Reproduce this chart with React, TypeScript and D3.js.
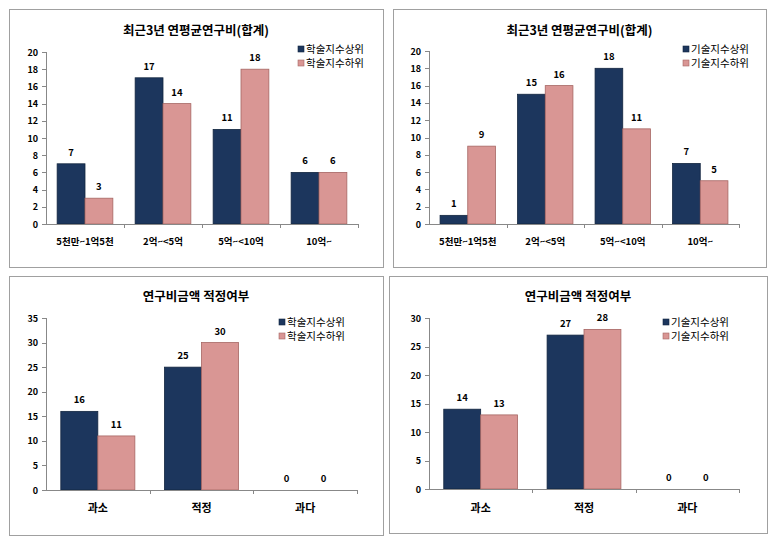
import React from "react";
import * as d3 from "d3";

const rangeCats = ["5천만~1억5천", "2억~<5억", "5억~<10억", "10억~"];
const adequacyCats = ["과소", "적정", "과다"];

const academicTopRange = [7, 17, 11, 6];
const academicBottomRange = [3, 14, 18, 6];
const techTopRange = [1, 15, 18, 7];
const techBottomRange = [9, 16, 11, 5];

const academicTopAdeq = [16, 25, 0];
const academicBottomAdeq = [11, 30, 0];
const techTopAdeq = [14, 27, 0];
const techBottomAdeq = [13, 28, 0];

const academicNames = ["학술지수상위", "학술지수하위"];
const techNames = ["기술지수상위", "기술지수하위"];

const titleRange = "최근3년 연평균연구비(합계)";
const titleAdeq = "연구비금액 적정여부";

const rangeTicks = [0, 2, 4, 6, 8, 10, 12, 14, 16, 18, 20];
const adeqTicksA = [0, 5, 10, 15, 20, 25, 30, 35];
const adeqTicksT = [0, 5, 10, 15, 20, 25, 30];

const NAVY = "#1c365d";
const PINK = "#d99694";
const FONT = "'Noto Sans CJK KR', 'Noto Sans', sans-serif";

type PanelProps = {
  box: { x: number; y: number; w: number; h: number };
  left: number;
  right: number;
  top: number;
  bottom: number;
  titleY: number;
  title: string;
  cats: string[];
  s1: number[];
  s2: number[];
  names: string[];
  ticks: number[];
  legendX: number;
  legendY: number;
  catFont: number;
  catY: number;
  barPad: number;
};

function Panel(p: PanelProps) {
  const yMax = p.ticks[p.ticks.length - 1];
  const y = d3.scaleLinear().domain([0, yMax]).range([p.bottom, p.top]);
  const x = d3.scaleBand().domain(p.cats).range([p.left, p.right]).paddingInner(0).paddingOuter(0);
  const inner = d3
    .scaleBand()
    .domain(["0", "1"])
    .range([0, x.bandwidth()])
    .paddingOuter(p.barPad)
    .paddingInner(0);
  const series = [p.s1, p.s2];
  const colors = [NAVY, PINK];
  const strokes = ["#132640", "#a66663"];
  const cx = p.box.x + p.box.w / 2;
  return (
    <g>
      <rect x={p.box.x + 0.5} y={p.box.y + 0.5} width={p.box.w} height={p.box.h} fill="#fff" stroke="#a0a0a0" strokeWidth={1} />
      <text x={cx} y={p.titleY} textAnchor="middle" fontFamily={FONT} fontWeight="bold" fontSize={12.5} fill="#000">
        {p.title}
      </text>
      {p.ticks.map((t) => (
        <g key={t}>
          <line x1={p.left - 4} x2={p.left} y1={Math.round(y(t)) + 0.5} y2={Math.round(y(t)) + 0.5} stroke="#888" />
          <text x={p.left - 8} y={y(t) + 3.5} textAnchor="end" fontFamily={FONT} fontWeight="bold" fontSize={9} fill="#000">
            {t}
          </text>
        </g>
      ))}
      {series.map((s, si) =>
        s.map((v, i) => {
          const bx = (x(p.cats[i]) as number) + (inner(String(si)) as number);
          const bw = inner.bandwidth();
          const by = y(v);
          return (
            <g key={`${si}-${i}`}>
              {v > 0 && (
                <rect x={bx} y={by} width={bw} height={p.bottom - by} fill={colors[si]} stroke={strokes[si]} strokeWidth={0.8} />
              )}
              <text x={bx + bw / 2} y={by - 8} textAnchor="middle" fontFamily={FONT} fontWeight="bold" fontSize={9.5} fill="#000">
                {v}
              </text>
            </g>
          );
        })
      )}
      <line x1={p.left + 0.5} x2={p.left + 0.5} y1={p.top} y2={p.bottom} stroke="#888" />
      <line x1={p.left} x2={p.right} y1={p.bottom + 0.5} y2={p.bottom + 0.5} stroke="#888" />
      {p.cats.map((c, i) => (
        <line
          key={"t" + c}
          x1={Math.round((x(c) as number) + x.bandwidth()) + 0.5}
          x2={Math.round((x(c) as number) + x.bandwidth()) + 0.5}
          y1={p.bottom}
          y2={p.bottom + 4}
          stroke="#888"
        />
      ))}
      {p.cats.map((c) => (
        <text
          key={"c" + c}
          x={(x(c) as number) + x.bandwidth() / 2}
          y={p.catY}
          textAnchor="middle"
          fontFamily={FONT}
          fontWeight="bold"
          fontSize={p.catFont}
          fill="#000"
        >
          {c}
        </text>
      ))}
      {p.names.map((n, i) => (
        <g key={n}>
          <rect x={p.legendX} y={p.legendY + i * 14 - 3} width={6} height={6} fill={colors[i]} stroke={strokes[i]} strokeWidth={0.6} />
          <text x={p.legendX + 8} y={p.legendY + i * 14 + 3.5} fontFamily={FONT} fontSize={10.5} fill="#000">
            {n}
          </text>
        </g>
      ))}
    </g>
  );
}

export default function App() {
  return (
    <svg width={773} height={539} style={{ position: "absolute", left: 0, top: 0 }}>
      <rect width={773} height={539} fill="#fff" />
      <Panel
        box={{ x: 9, y: 9, w: 374, h: 258 }}
        left={46}
        right={358}
        top={52}
        bottom={224}
        titleY={35}
        title={titleRange}
        cats={rangeCats}
        s1={academicTopRange}
        s2={academicBottomRange}
        names={academicNames}
        ticks={rangeTicks}
        legendX={298}
        legendY={49}
        catFont={9.5}
        catY={245}
        barPad={0.4}
      />
      <Panel
        box={{ x: 393, y: 9, w: 373, h: 258 }}
        left={429}
        right={739}
        top={51}
        bottom={224}
        titleY={35}
        title={titleRange}
        cats={rangeCats}
        s1={techTopRange}
        s2={techBottomRange}
        names={techNames}
        ticks={rangeTicks}
        legendX={683}
        legendY={49}
        catFont={9.5}
        catY={245}
        barPad={0.4}
      />
      <Panel
        box={{ x: 9, y: 276, w: 374, h: 259 }}
        left={46}
        right={357}
        top={318}
        bottom={490}
        titleY={301}
        title={titleAdeq}
        cats={adequacyCats}
        s1={academicTopAdeq}
        s2={academicBottomAdeq}
        names={academicNames}
        ticks={adeqTicksA}
        legendX={279}
        legendY={322}
        catFont={11}
        catY={512}
        barPad={0.4}
      />
      <Panel
        box={{ x: 389, y: 276, w: 378, h: 257 }}
        left={429}
        right={739}
        top={318}
        bottom={489}
        titleY={301}
        title={titleAdeq}
        cats={adequacyCats}
        s1={techTopAdeq}
        s2={techBottomAdeq}
        names={techNames}
        ticks={adeqTicksT}
        legendX={663}
        legendY={322}
        catFont={11}
        catY={512}
        barPad={0.4}
      />
    </svg>
  );
}
